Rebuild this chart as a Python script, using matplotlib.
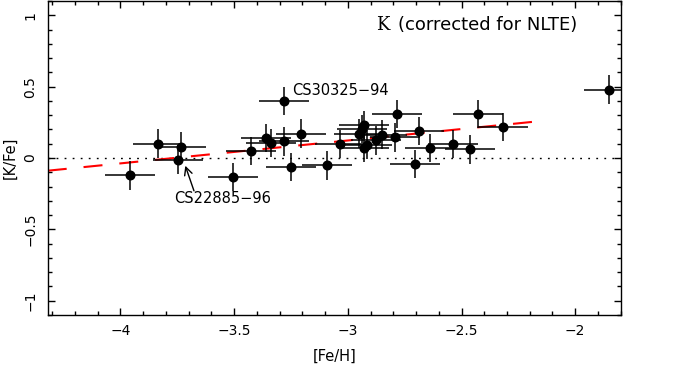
import numpy as np
import matplotlib
matplotlib.use("Agg")
import matplotlib.pyplot as plt
from matplotlib.ticker import MultipleLocator

# ---- data ----
feh = [-3.957, -3.836, -3.748, -3.736, -3.503, -3.427, -3.359, -3.337, -3.282, -3.282,
       -3.205, -3.249, -3.092, -3.036, -2.949, -2.937, -2.927, -2.927, -2.917, -2.876,
       -2.850, -2.784, -2.794, -2.685, -2.705, -2.639, -2.539, -2.462, -2.428, -2.316,
       -1.852]
kfe = [-0.121, 0.100, -0.012, 0.079, -0.133, 0.050, 0.140, 0.104, 0.400, 0.116,
       0.170, -0.063, -0.052, 0.098, 0.170, 0.202, 0.230, 0.070, 0.093, 0.123,
       0.163, 0.309, 0.144, 0.190, -0.042, 0.070, 0.098, 0.060, 0.309, 0.218,
       0.479]
feh_err = 0.11
kfe_err = 0.10

# linear trend (red dashed)
fit_x = [-4.32, -2.17]
fit_y = [-0.089, 0.256]

plt.rcParams['lines.scale_dashes'] = False

fig = plt.figure(figsize=(6.79, 3.71), dpi=100)
ax = fig.add_axes([0.0703, 0.1509, 0.8438, 0.8464])

ax.axhline(0, color='black', lw=1.0, dashes=(1.3, 4.5))
ax.plot(fit_x, fit_y, color='#ff0000', lw=1.5, dashes=(13.7, 12.2))
ax.errorbar(feh, kfe, xerr=feh_err, yerr=kfe_err, fmt='o', color='black',
            ms=6.2, elinewidth=1.1, capsize=0)

# labels on the plot
ax.text(-2.875, 0.895, 'K', family='DejaVu Serif', fontsize=13, ha='left', va='baseline')
ax.text(-2.781, 0.895, '(corrected for NLTE)', fontsize=13, ha='left', va='baseline')
ax.text(-3.245, 0.442, 'CS30325\u221294', fontsize=10.5, ha='left', va='baseline')
ax.annotate('CS22885\u221296', xy=(-3.715, -0.054), xytext=(-3.762, -0.314),
            fontsize=10.5, ha='left', va='baseline',
            arrowprops=dict(arrowstyle='->', color='black', lw=1.0,
                            shrinkA=0, shrinkB=0, mutation_scale=14,
                            patchA=None, relpos=(0.2, 1.0)))

ax.set_xlim(-4.32, -1.8)
ax.set_ylim(-1.1, 1.1)
ax.xaxis.set_major_locator(MultipleLocator(0.5))
ax.xaxis.set_minor_locator(MultipleLocator(0.1))
ax.yaxis.set_major_locator(MultipleLocator(0.5))
ax.yaxis.set_minor_locator(MultipleLocator(0.1))
ax.tick_params(which='both', direction='in', top=True, right=True, width=1.0)
ax.tick_params(which='major', length=5)
ax.tick_params(which='minor', length=2.6)
ax.tick_params(axis='x', labelsize=10, pad=6.5)
ax.tick_params(axis='y', labelsize=10, pad=7.5)
ax.set_xticks([-4, -3.5, -3, -2.5, -2])
ax.set_xticklabels(['\u22124', '\u22123.5', '\u22123', '\u22122.5', '\u22122'])
ax.set_yticks([-1, -0.5, 0, 0.5, 1])
ax.set_yticklabels(['\u22121', '\u22120.5', '0', '0.5', '1'], rotation=90, va='center')

for s in ax.spines.values():
    s.set_linewidth(1.0)

ax.set_xlabel('[Fe/H]', fontsize=10.5, labelpad=8)
ax.set_ylabel('[K/Fe]', fontsize=10.5, labelpad=4)

fig.savefig('out.png', dpi=100)
